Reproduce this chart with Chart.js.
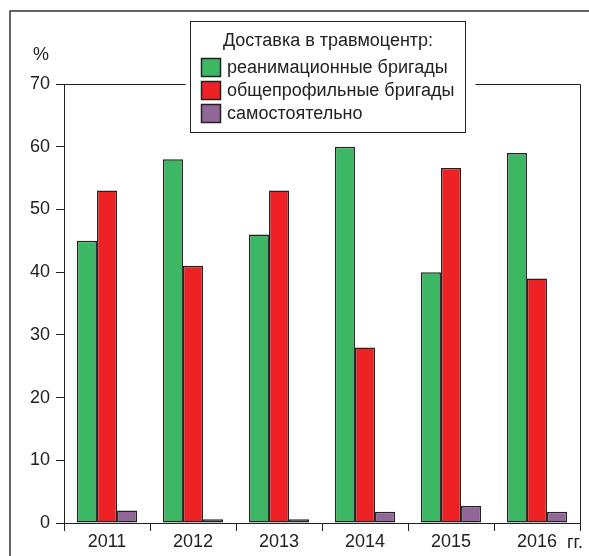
<!DOCTYPE html>
<html lang="ru">
<head>
<meta charset="utf-8">
<script src="https://cdn.jsdelivr.net/npm/chart.js@4"></script>
<style>
  html, body { margin: 0; background: #fff; }
  #wrap { width: 589px; height: 556px; }
</style>
</head>
<body>
<div id="wrap"><canvas id="chart" width="589" height="556"></canvas></div>
<script>
// Доля пострадавших по способу доставки, %
const years = ['2011', '2012', '2013', '2014', '2015', '2016'];
const reanimation = [45, 58, 46, 60, 40, 59];
const generalTeams = [53, 41, 53, 28, 56.6, 39];
const selfArrived = [2, 0.6, 0.6, 1.8, 2.7, 1.8];
const yTicks = [0, 10, 20, 30, 40, 50, 60, 70];

const seriesNames = ['реанимационные бригады', 'общепрофильные бригады', 'самостоятельно'];
const seriesColors = ['#3cb865', '#ee2224', '#926699'];
const legendTitle = 'Доставка в травмоцентр:';

const FONT = '"Liberation Sans", Arial, sans-serif';
const INK = '#222';

Chart.defaults.font.family = FONT;
Chart.defaults.color = INK;

// рамка, подписи осей и легенда поверх верхней линии графика
const decor = {
  id: 'decor',
  beforeDraw(chart) {
    const ctx = chart.ctx;
    ctx.save();
    ctx.fillStyle = '#fff';
    ctx.fillRect(0, 0, chart.width, chart.height);
    ctx.restore();
  },
  afterDraw(chart) {
    const { ctx, chartArea: a } = chart;
    const box = { x: 190.5, y: 21.5, w: 275, h: 111 };
    ctx.save();

    // внешняя рамка
    ctx.strokeStyle = '#333';
    ctx.lineWidth = 1.5;
    ctx.beginPath();
    ctx.moveTo(10, chart.height);
    ctx.lineTo(10, 11);
    ctx.lineTo(chart.width, 11);
    ctx.stroke();

    // верх и правый край области построения
    ctx.strokeStyle = INK;
    ctx.lineWidth = 1;
    const top = Math.round(a.top) + 0.5;
    const right = Math.round(a.right) + 0.5;
    ctx.beginPath();
    ctx.moveTo(a.left, top);
    ctx.lineTo(box.x - 5, top);
    ctx.moveTo(box.x + box.w + 10, top);
    ctx.lineTo(right, top);
    ctx.lineTo(right, a.bottom);
    ctx.stroke();

    // подписи единиц
    ctx.fillStyle = INK;
    ctx.font = '18px ' + FONT;
    ctx.textAlign = 'center';
    ctx.textBaseline = 'middle';
    ctx.fillText('%', 41, 55);
    ctx.textBaseline = 'alphabetic';
    ctx.fillText('гг.', 575, 548);

    // легенда
    ctx.textBaseline = 'middle';
    ctx.fillStyle = '#fff';
    ctx.fillRect(box.x, box.y, box.w, box.h);
    ctx.strokeRect(box.x, box.y, box.w, box.h);
    ctx.fillStyle = INK;
    ctx.font = '18px ' + FONT;
    ctx.fillText(legendTitle, box.x + box.w / 2, 41);
    ctx.textAlign = 'left';
    chart.data.datasets.forEach((ds, i) => {
      const y = 58 + i * 23;
      ctx.fillStyle = ds.backgroundColor;
      ctx.fillRect(201.5, y + 0.5, 19, 18);
      ctx.lineWidth = 1.5;
      ctx.strokeRect(201.5, y + 0.5, 19, 18);
      ctx.fillStyle = INK;
      ctx.fillText(ds.label, 227, y + 10);
    });
    ctx.restore();
  }
};

const makeSet = (i, data) => ({
  label: seriesNames[i],
  data: data,
  backgroundColor: seriesColors[i],
  borderColor: INK,
  borderWidth: 1.5,
  borderSkipped: false
});

new Chart(document.getElementById('chart'), {
  type: 'bar',
  data: {
    labels: years,
    datasets: [
      makeSet(0, reanimation),
      makeSet(1, generalTeams),
      makeSet(2, selfArrived)
    ]
  },
  options: {
    responsive: false,
    animation: false,
    categoryPercentage: 0.7,
    barPercentage: 1,
    layout: { padding: { top: 84, right: 9, left: 0, bottom: 0 } },
    plugins: {
      legend: { display: false },
      tooltip: { enabled: false }
    },
    scales: {
      x: {
        afterFit: s => { s.height = 33; },
        grid: { drawOnChartArea: false, color: INK, tickLength: 8, offset: true },
        border: { color: INK },
        ticks: { font: { size: 18 }, color: INK, padding: 0 }
      },
      y: {
        min: 0,
        max: 70,
        afterFit: s => { s.width = 64; },
        afterBuildTicks: s => { s.ticks = yTicks.map(v => ({ value: v })); },
        grid: { drawOnChartArea: false, color: INK, tickLength: 8 },
        border: { color: INK },
        ticks: { font: { size: 18 }, color: INK, padding: 6 }
      }
    }
  },
  plugins: [decor]
});
</script>
</body>
</html>
